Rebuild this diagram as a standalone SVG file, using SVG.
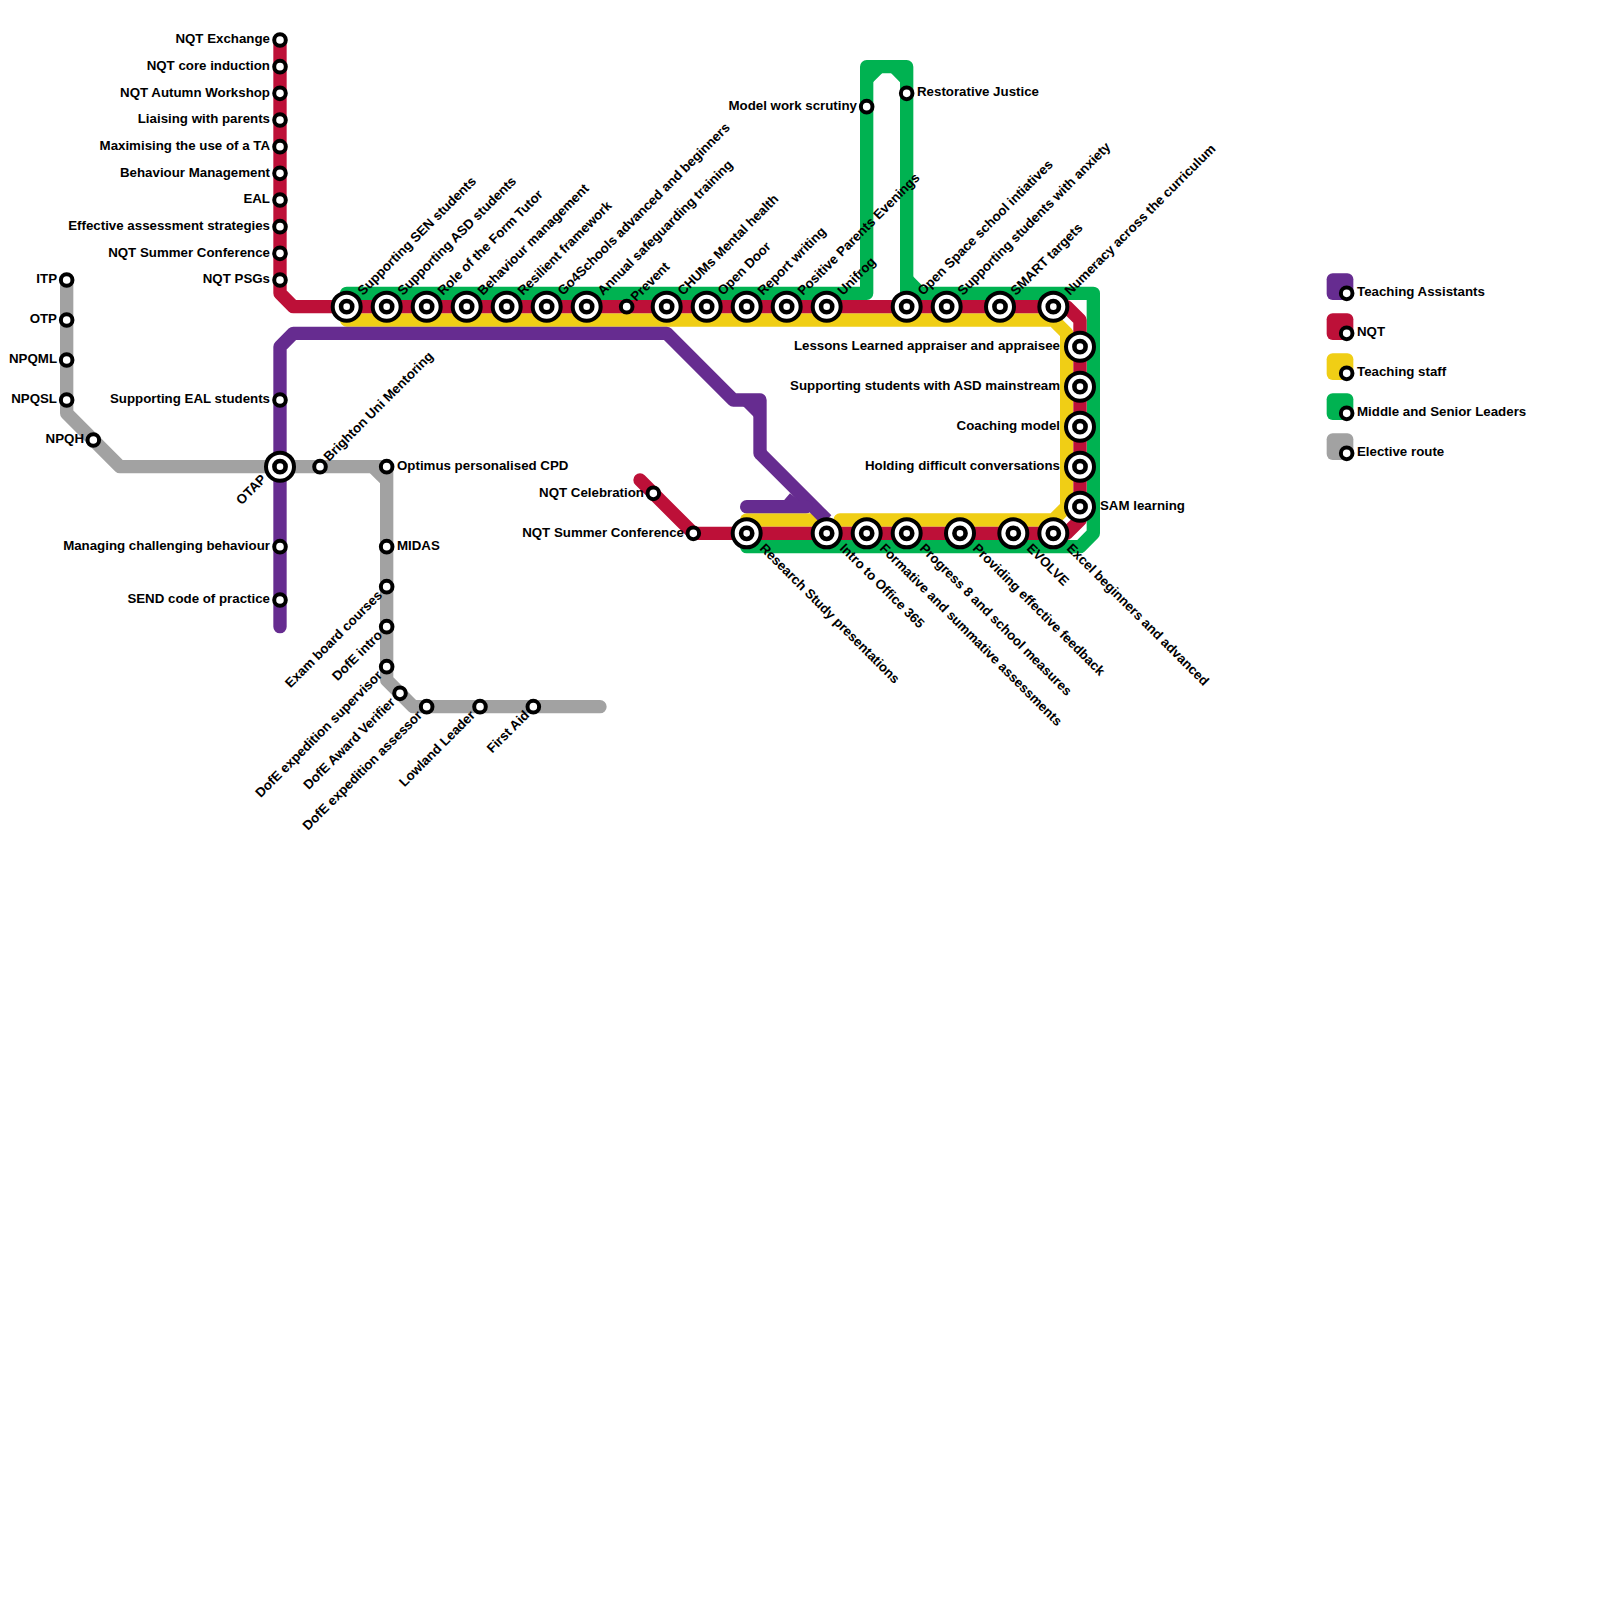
<svg xmlns="http://www.w3.org/2000/svg" width="1600" height="1600" viewBox="0 0 1600 1600">
<style>
.l{fill:none;stroke-width:13.33;stroke-linejoin:round;stroke-linecap:butt}
.r{stroke-linecap:round}
.g{stroke:#00b251}.y{stroke:#f0ce15}.p{stroke:#662c90}.d{stroke:#bd1038}.e{stroke:#a2a2a2}
.s{fill:#fff;stroke:#000;stroke-width:4}
.o{fill:#fff;stroke:#000;stroke-width:4}
.i{fill:#fff;stroke:#000;stroke-width:4.6}
text{font-family:"Liberation Sans",Arial,sans-serif;font-weight:bold;font-size:13.3px;fill:#000}
.a{text-anchor:end}
</style>
<defs>
<circle id="st" r="5.8" class="s"/>
<g id="ic"><circle r="14" class="o"/><circle r="5.6" class="i"/></g>
</defs>
<rect width="1600" height="1600" fill="#fff"/>
<g id="connectors">
<path class="l g r" d="M346.67 293.33H866.67V66.67H906.67V293.33H1093.33V533.33L1080 546.67H746.67"/>
<path d="M872 72H883.33L872 83.33ZM901 72H890L901 83.33ZM912 275.33L923.33 286.67V288H912Z" fill="#00b251"/>
<path class="l y r" d="M346.67 320H1053.33L1066.67 333.33V506.67L1053.33 520H840"/>
<path class="l y r" d="M746.67 520H813.33"/>
<path class="l e r" d="M66.67 280V413.33L120 466.67H386.67V680L413.33 706.67H600"/>
<path d="M368.67 472H381V484.33Z" fill="#a2a2a2"/>
<path class="l p r" d="M280 626.67V346.67L293.33 333.33H666.67L733.33 400H760V453.33"/>
<path class="l p" d="M760 453.33L826.67 520"/>
<path class="l p r" d="M746.67 506.67H806"/>
<path d="M741 404H755V418ZM783.33 501L790 493.33L800 501Z" fill="#662c90"/>
<path class="l d r" d="M280 40V293.33L293.33 306.67H1066.67L1080 320V520L1066.67 533.33H693.33L640 480"/>
</g>
<g id="n1"><use href="#st" x="280" y="40"/><text class="a" x="270" y="43.3">NQT Exchange</text></g>
<g id="n2"><use href="#st" x="280" y="66.67"/><text class="a" x="270" y="70">NQT core induction</text></g>
<g id="n3"><use href="#st" x="280" y="93.33"/><text class="a" x="270" y="96.7">NQT Autumn Workshop</text></g>
<g id="n4"><use href="#st" x="280" y="120"/><text class="a" x="270" y="123.3">Liaising with parents</text></g>
<g id="n5"><use href="#st" x="280" y="146.67"/><text class="a" x="270" y="150">Maximising the use of a TA</text></g>
<g id="n6"><use href="#st" x="280" y="173.33"/><text class="a" x="270" y="176.7">Behaviour Management</text></g>
<g id="n7"><use href="#st" x="280" y="200"/><text class="a" x="270" y="203.3">EAL</text></g>
<g id="n8"><use href="#st" x="280" y="226.67"/><text class="a" x="270" y="230">Effective assessment strategies</text></g>
<g id="n9"><use href="#st" x="280" y="253.33"/><text class="a" x="270" y="256.7">NQT Summer Conference</text></g>
<g id="n10"><use href="#st" x="280" y="280"/><text class="a" x="270" y="283.3">NQT PSGs</text></g>
<g id="n11"><use href="#st" x="66.67" y="280"/><text class="a" x="57" y="283.3">ITP</text></g>
<g id="n12"><use href="#st" x="66.67" y="320"/><text class="a" x="57" y="323.3">OTP</text></g>
<g id="n13"><use href="#st" x="66.67" y="360"/><text class="a" x="57" y="363.3">NPQML</text></g>
<g id="n14"><use href="#st" x="66.67" y="400"/><text class="a" x="57" y="403.3">NPQSL</text></g>
<g id="n15"><use href="#st" x="93.33" y="440"/><text class="a" x="84" y="443.3">NPQH</text></g>
<g id="n16"><use href="#st" x="280" y="400"/><text class="a" x="270" y="403.3">Supporting EAL students</text></g>
<g id="n17"><use href="#ic" x="280" y="466.67"/><text class="a" transform="translate(267 480) rotate(-45)">OTAP</text></g>
<g id="n18"><use href="#st" x="280" y="546.67"/><text class="a" x="270" y="550">Managing challenging behaviour</text></g>
<g id="n19"><use href="#st" x="280" y="600"/><text class="a" x="270" y="603.3">SEND code of practice</text></g>
<g id="n20"><use href="#st" x="320" y="466.67"/><text transform="translate(329 462) rotate(-45)">Brighton Uni Mentoring</text></g>
<g id="n21"><use href="#st" x="386.67" y="466.67"/><text x="397" y="470">Optimus personalised CPD</text></g>
<g id="n22"><use href="#st" x="386.67" y="546.67"/><text x="397" y="550">MIDAS</text></g>
<g id="n23"><use href="#st" x="386.67" y="586.67"/><text class="a" transform="translate(383 596) rotate(-45)">Exam board courses</text></g>
<g id="n24"><use href="#st" x="386.67" y="626.67"/><text class="a" transform="translate(383 636) rotate(-45)">DofE intro</text></g>
<g id="n25"><use href="#st" x="386.67" y="666.67"/><text class="a" transform="translate(383 676) rotate(-45)">DofE expedition supervisor</text></g>
<g id="n26"><use href="#st" x="400" y="693.33"/><text class="a" transform="translate(396 703) rotate(-45)">DofE Award Verifier</text></g>
<g id="n27"><use href="#st" x="426.67" y="706.67"/><text class="a" transform="translate(423 716) rotate(-45)">DofE expedition assessor</text></g>
<g id="n28"><use href="#st" x="480" y="706.67"/><text class="a" transform="translate(476 716) rotate(-45)">Lowland Leader</text></g>
<g id="n29"><use href="#st" x="533.33" y="706.67"/><text class="a" transform="translate(530 716) rotate(-45)">First Aid</text></g>
<g id="n30"><use href="#ic" x="346.67" y="306.67"/><text transform="translate(363 296) rotate(-45)">Supporting SEN students</text></g>
<g id="n31"><use href="#ic" x="386.67" y="306.67"/><text transform="translate(403 296) rotate(-45)">Supporting ASD students</text></g>
<g id="n32"><use href="#ic" x="426.67" y="306.67"/><text transform="translate(443 296) rotate(-45)">Role of the Form Tutor</text></g>
<g id="n33"><use href="#ic" x="466.67" y="306.67"/><text transform="translate(483 296) rotate(-45)">Behaviour management</text></g>
<g id="n34"><use href="#ic" x="506.67" y="306.67"/><text transform="translate(523 296) rotate(-45)">Resilient framework</text></g>
<g id="n35"><use href="#ic" x="546.67" y="306.67"/><text transform="translate(563 296) rotate(-45)">Go4Schools advanced and beginners</text></g>
<g id="n36"><use href="#ic" x="586.67" y="306.67"/><text transform="translate(603 296) rotate(-45)">Annual safeguarding training</text></g>
<g id="n37"><use href="#st" x="626.67" y="306.67"/><text transform="translate(636 302) rotate(-45)">Prevent</text></g>
<g id="n38"><use href="#ic" x="666.67" y="306.67"/><text transform="translate(683 296) rotate(-45)">CHUMs Mental health</text></g>
<g id="n39"><use href="#ic" x="706.67" y="306.67"/><text transform="translate(723 296) rotate(-45)">Open Door</text></g>
<g id="n40"><use href="#ic" x="746.67" y="306.67"/><text transform="translate(763 296) rotate(-45)">Report writing</text></g>
<g id="n41"><use href="#ic" x="786.67" y="306.67"/><text transform="translate(803 296) rotate(-45)">Positive Parents Evenings</text></g>
<g id="n42"><use href="#ic" x="826.67" y="306.67"/><text transform="translate(843 296) rotate(-45)">Unifrog</text></g>
<g id="n43"><use href="#ic" x="906.67" y="306.67"/><text transform="translate(923 296) rotate(-45)">Open Space school intiatives</text></g>
<g id="n44"><use href="#ic" x="946.67" y="306.67"/><text transform="translate(963 296) rotate(-45)">Supporting students with anxiety</text></g>
<g id="n45"><use href="#ic" x="1000" y="306.67"/><text transform="translate(1016 296) rotate(-45)">SMART targets</text></g>
<g id="n46"><use href="#ic" x="1053.33" y="306.67"/><text transform="translate(1070 296) rotate(-45)">Numeracy across the curriculum</text></g>
<g id="n47"><use href="#st" x="866.67" y="106.67"/><text class="a" x="857" y="110">Model work scrutiny</text></g>
<g id="n48"><use href="#st" x="906.67" y="93.33"/><text x="917" y="96">Restorative Justice</text></g>
<g id="n49"><use href="#ic" x="1080" y="346.67"/><text class="a" x="1060" y="350">Lessons Learned appraiser and appraisee</text></g>
<g id="n50"><use href="#ic" x="1080" y="386.67"/><text class="a" x="1060" y="390">Supporting students with ASD mainstream</text></g>
<g id="n51"><use href="#ic" x="1080" y="426.67"/><text class="a" x="1060" y="430">Coaching model</text></g>
<g id="n52"><use href="#ic" x="1080" y="466.67"/><text class="a" x="1060" y="470">Holding difficult conversations</text></g>
<g id="n53"><use href="#ic" x="1080" y="506.67"/><text x="1100" y="510">SAM learning</text></g>
<g id="n54"><use href="#st" x="653.33" y="493.33"/><text class="a" x="644" y="496.5">NQT Celebration</text></g>
<g id="n55"><use href="#st" x="693.33" y="533.33"/><text class="a" x="684" y="536.5">NQT Summer Conference</text></g>
<g id="n56"><use href="#ic" x="746.67" y="533.33"/><text transform="translate(759 549) rotate(45)">Research Study presentations</text></g>
<g id="n57"><use href="#ic" x="826.67" y="533.33"/><text transform="translate(839 549) rotate(45)">Intro to Office 365</text></g>
<g id="n58"><use href="#ic" x="866.67" y="533.33"/><text transform="translate(879 549) rotate(45)">Formative and summative assessments</text></g>
<g id="n59"><use href="#ic" x="906.67" y="533.33"/><text transform="translate(919 549) rotate(45)">Progress 8 and school measures</text></g>
<g id="n60"><use href="#ic" x="960" y="533.33"/><text transform="translate(972 549) rotate(45)">Providing effective feedback</text></g>
<g id="n61"><use href="#ic" x="1013.33" y="533.33"/><text transform="translate(1026 549) rotate(45)">EVOLVE</text></g>
<g id="n62"><use href="#ic" x="1053.33" y="533.33"/><text transform="translate(1066 549) rotate(45)">Excel beginners and advanced</text></g>
<g id="legend">
<rect x="1326.67" y="273.33" width="26.67" height="26.67" rx="6" fill="#662c90"/><use href="#st" x="1346.67" y="293.33"/><text x="1357" y="296">Teaching Assistants</text>
<rect x="1326.67" y="313.33" width="26.67" height="26.67" rx="6" fill="#bd1038"/><use href="#st" x="1346.67" y="333.33"/><text x="1357" y="336">NQT</text>
<rect x="1326.67" y="353.33" width="26.67" height="26.67" rx="6" fill="#f0ce15"/><use href="#st" x="1346.67" y="373.33"/><text x="1357" y="376">Teaching staff</text>
<rect x="1326.67" y="393.33" width="26.67" height="26.67" rx="6" fill="#00b251"/><use href="#st" x="1346.67" y="413.33"/><text x="1357" y="416">Middle and Senior Leaders</text>
<rect x="1326.67" y="433.33" width="26.67" height="26.67" rx="6" fill="#a2a2a2"/><use href="#st" x="1346.67" y="453.33"/><text x="1357" y="456">Elective route</text>
</g>
</svg>
